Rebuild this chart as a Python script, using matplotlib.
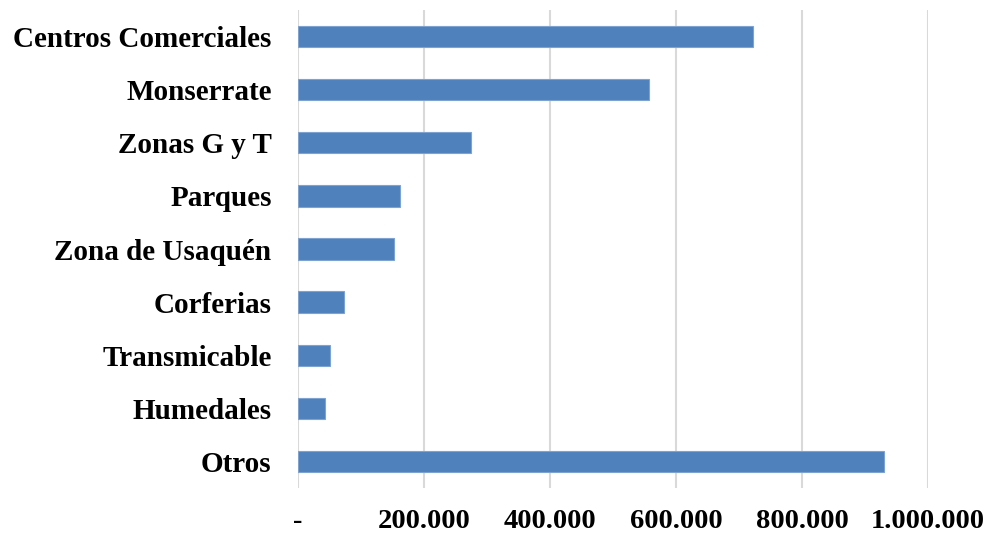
import matplotlib.pyplot as plt
from matplotlib.ticker import FuncFormatter

# datos
lugares = ['Centros Comerciales', 'Monserrate', 'Zonas G y T', 'Parques',
           'Zona de Usaquén', 'Corferias', 'Transmicable', 'Humedales', 'Otros']
visitantes = [722000, 557000, 275000, 162000, 152000, 73000, 51000, 43000, 930000]
ticks_x = [0, 200000, 400000, 600000, 800000, 1000000]

plt.rcParams['font.family'] = ['Liberation Serif', 'DejaVu Serif']
plt.rcParams['font.weight'] = 'bold'

fig = plt.figure(figsize=(9.89, 5.37), dpi=100)
ax = fig.add_axes([0.3013, 0.0912, 0.637, 0.8902])

pos = range(len(lugares))
ax.barh(pos, visitantes, height=0.4, color='#4F81BD', edgecolor='#7FA3D1',
        linewidth=0.8, zorder=3)
ax.set_yticks(list(pos))
ax.set_yticklabels(lugares, fontsize=21, fontweight='bold')
ax.set_ylim(len(lugares) - 0.5, -0.5)

ax.set_xlim(0, 1000000)
ax.set_xticks(ticks_x)


def fmt(v, p):
    if v == 0:
        return '-'
    return '{:,.0f}'.format(v).replace(',', '.')


ax.xaxis.set_major_formatter(FuncFormatter(fmt))
for t in ax.get_xticklabels():
    t.set_fontsize(20.5)
    t.set_fontweight('bold')

ax.grid(axis='x', color='#D9D9D9', linewidth=1.5, zorder=0)
ax.tick_params(axis='x', length=0, pad=15)
ax.tick_params(axis='y', length=0, pad=19)
for s in ax.spines.values():
    s.set_visible(False)

plt.savefig('out.png', dpi=100)
